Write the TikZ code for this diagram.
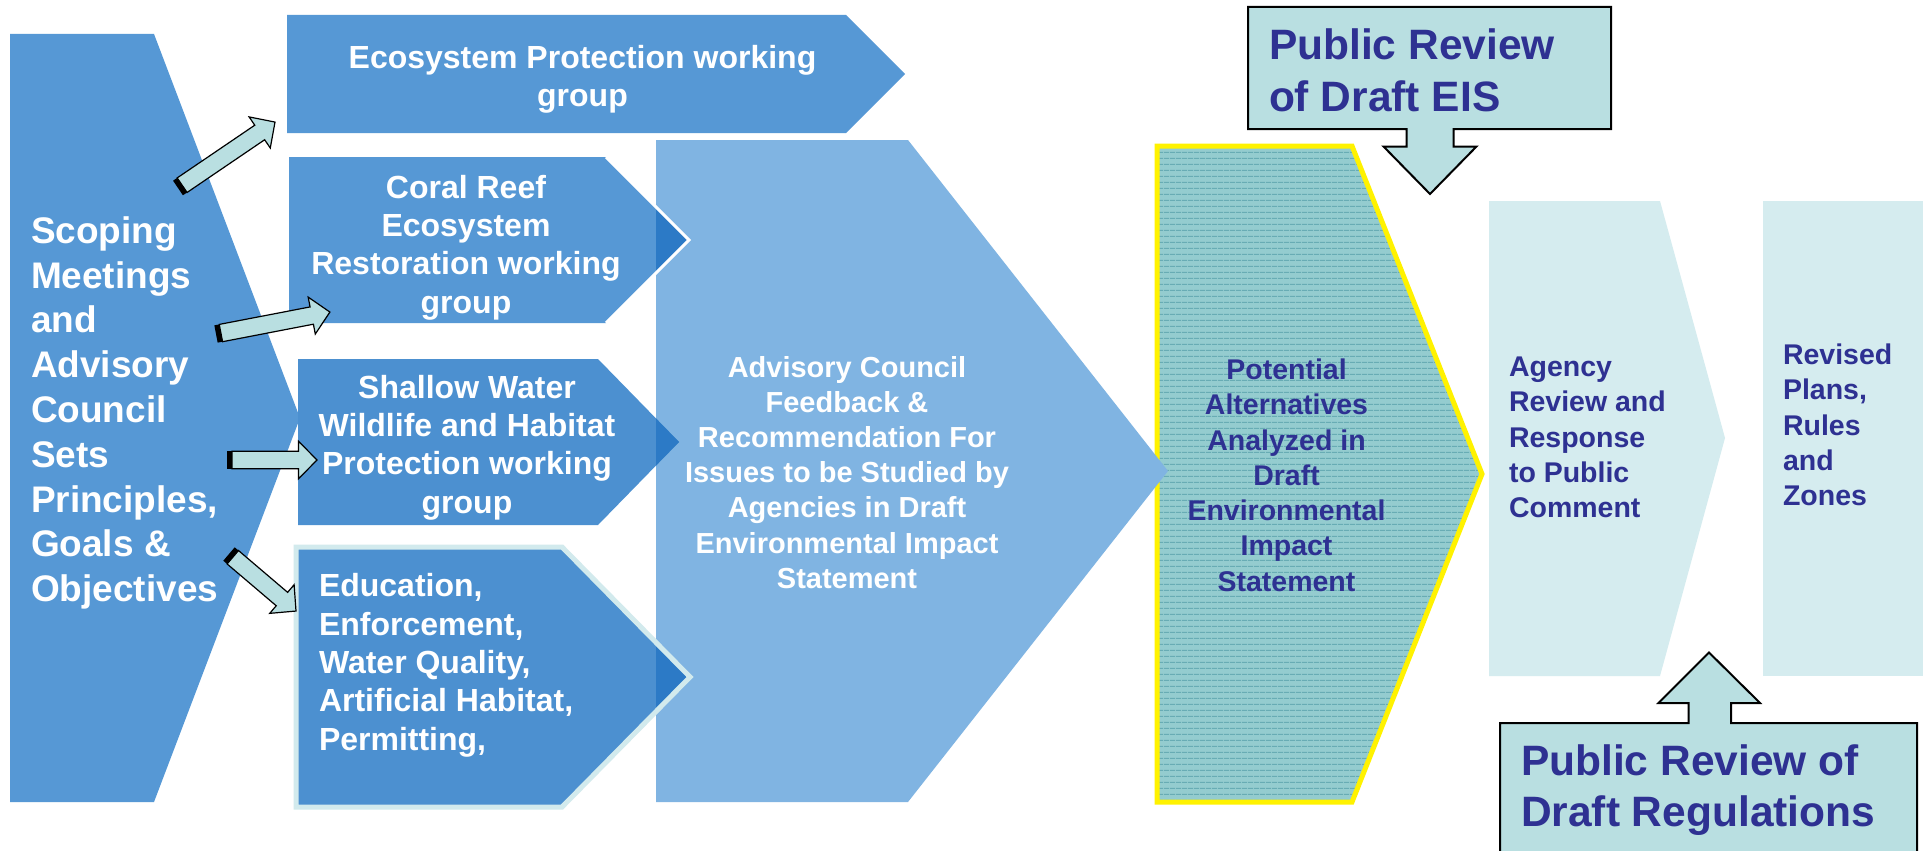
\documentclass[tikz,border=0pt]{standalone}
\usepackage{fontspec}
\setmainfont{Liberation Sans}
\usetikzlibrary{patterns.meta}
\definecolor{blueA}{RGB}{86,152,213}
\definecolor{blueS}{RGB}{76,144,208}
\definecolor{blueAdv}{RGB}{128,180,226}
\definecolor{tipdark}{RGB}{44,122,198}
\definecolor{tealP}{RGB}{148,204,207}
\definecolor{tealLine}{RGB}{104,172,180}
\definecolor{paleT}{RGB}{213,236,239}
\definecolor{callout}{RGB}{185,223,225}
\definecolor{navy}{RGB}{46,49,146}
\definecolor{eduborder}{RGB}{210,234,237}
\tikzdeclarepattern{
  name=hstripes,
  type=uncolored,
  bounding box={(0pt,0pt) and (6pt,6pt)},
  tile size={(6pt,6pt)},
  code={\pgfsetlinewidth{1.3pt}\pgfpathmoveto{\pgfpoint{0pt}{3pt}}\pgfpathlineto{\pgfpoint{6pt}{3pt}}\pgfusepath{stroke}}
}
\begin{document}
\begin{tikzpicture}[x=1pt,y=-1pt,
  every node/.style={inner sep=0pt,outer sep=0pt},
  fScope/.style={font=\fontsize{37}{44.8}\selectfont\bfseries},
  fGroup/.style={font=\fontsize{32}{38.4}\selectfont\bfseries},
  fAdv/.style={font=\fontsize{29}{35.2}\selectfont\bfseries},
  fPot/.style={font=\fontsize{28.5}{35.3}\selectfont\bfseries},
  fPub/.style={font=\fontsize{42.5}{51.5}\selectfont\bfseries},
  pics/barrow/.style={code={
    \fill[black] (0,-8.8) rectangle (6,8.8);
    \draw[fill=callout,line width=1.2pt,line join=miter]
      (5,-8.8) -- ({#1-18.5},-8.8) -- ({#1-18.5},-18.8) -- (#1,0)
      -- ({#1-18.5},18.8) -- ({#1-18.5},8.8) -- (5,8.8) -- cycle;
  }}]
\useasboundingbox (0,0) rectangle (1923,851);
\fill[white] (0,0) rectangle (1923,851);

% Left scoping chevron
\fill[blueA] (10,34) -- (154,34) -- (300,418) -- (154,802) -- (10,802) -- cycle;

% Right-hand stages
\fill[tealP] (1157,146) -- (1352,146) -- (1482,474) -- (1352,802) -- (1157,802) -- cycle;
\fill[pattern=hstripes,pattern color=tealLine]
  (1157,146) -- (1352,146) -- (1482,474) -- (1352,802) -- (1157,802) -- cycle;
\draw[draw=yellow,line width=5pt,line join=miter]
  (1157,146) -- (1352,146) -- (1482,474) -- (1352,802) -- (1157,802) -- cycle;
\fill[paleT] (1489,201) -- (1660,201) -- (1725,438) -- (1660,676) -- (1489,676) -- cycle;
\fill[paleT] (1763,201) rectangle (1935,676);

% Advisory council chevron
\fill[blueAdv] (656,140) -- (908,140) -- (1168,471) -- (908,802) -- (656,802) -- cycle;

% Working group boxes
\fill[blueA] (287,15) -- (846,15) -- (905,74) -- (846,133) -- (287,133) -- cycle;

\fill[blueA] (289,157) -- (606,157) -- (689,240) -- (606,323) -- (289,323) -- cycle;
\begin{scope}
  \clip (656,0) rectangle (1000,851);
  \fill[tipdark] (289,157) -- (606,157) -- (689,240) -- (606,323) -- (289,323) -- cycle;
\end{scope}
\draw[white,line width=3pt,line join=miter] (606,157) -- (689,240) -- (606,323);

\fill[blueS] (298,359) -- (598,359) -- (679,442) -- (598,525) -- (298,525) -- cycle;
\begin{scope}
  \clip (656,0) rectangle (1000,851);
  \fill[tipdark] (298,359) -- (598,359) -- (679,442) -- (598,525) -- (298,525) -- cycle;
\end{scope}

\fill[blueS] (296,547) -- (562,547) -- (690,677) -- (562,807) -- (296,807) -- cycle;
\begin{scope}
  \clip (656,0) rectangle (1000,851);
  \fill[tipdark] (296,547) -- (562,547) -- (690,677) -- (562,807) -- (296,807) -- cycle;
\end{scope}
\draw[eduborder,line width=5pt,line join=miter]
  (296,547) -- (562,547) -- (690,677) -- (562,807) -- (296,807) -- cycle;

% Callouts
\draw[fill=callout,line width=2pt,line join=miter]
  (1248,7) -- (1611,7) -- (1611,129) -- (1453.5,129) -- (1453.5,146.5)
  -- (1476.5,146.5) -- (1430,194) -- (1383.5,146.5) -- (1406.5,146.5)
  -- (1406.5,129) -- (1248,129) -- cycle;
\draw[fill=callout,line width=2pt,line join=miter]
  (1500,870) -- (1500,723) -- (1688.5,723) -- (1688.5,703) -- (1658.5,703)
  -- (1709,652.5) -- (1760,703) -- (1731,703) -- (1731,723) -- (1917,723)
  -- (1917,870);

% Block arrows
\coordinate (t1) at (178,188);
\coordinate (t2) at (216,334);
\coordinate (t3) at (227,460);
\coordinate (t4) at (229,554);
\pic[rotate=34.2] at (t1) {barrow=117.3};
\pic[rotate=10.9] at (t2) {barrow=116};
\pic at (t3) {barrow=90};
\pic[rotate=-40.4] at (t4) {barrow=88};

% Texts
\node[fScope,text=white,anchor=north west,align=left] (scoping) at (31,216.4)
  {Scoping\\Meetings\\and\\Advisory\\Council\\Sets\\Principles,\\Goals \&\\Objectives};
\node[fGroup,text=white,anchor=north,align=center] (eco) at (582.5,45)
  {Ecosystem Protection working\\group};
\node[fGroup,text=white,anchor=north,align=center] (coral) at (466,175)
  {Coral Reef\\Ecosystem\\Restoration working\\group};
\node[fGroup,text=white,anchor=north,align=center] (shallow) at (467,375)
  {Shallow Water\\Wildlife and Habitat\\Protection working\\group};
\node[fGroup,text=white,anchor=north west,align=left] (edu) at (319,573.5)
  {Education,\\Enforcement,\\Water Quality,\\Artificial Habitat,\\Permitting,};
\node[fAdv,text=white,anchor=north,align=center] (adv) at (847,356)
  {Advisory Council\\Feedback \&\\Recommendation For\\Issues to be Studied by\\Agencies in Draft\\Environmental Impact\\Statement};
\node[fPot,text=navy,anchor=north,align=center] (pot) at (1286.5,358.8)
  {Potential\\Alternatives\\Analyzed in\\Draft\\Environmental\\Impact\\Statement};
\node[fPot,text=navy,anchor=north west,align=left] (agency) at (1509,356.8)
  {Agency\\Review and\\Response\\to Public\\Comment};
\node[fPot,text=navy,anchor=north west,align=left] (revised) at (1783,343.8)
  {Revised\\Plans,\\Rules\\and\\Zones};
\node[fPub,text=navy,anchor=north west,align=left] (pubeis) at (1269,29)
  {Public Review\\of Draft EIS};
\node[fPub,text=navy,anchor=north west,align=left] (pubreg) at (1521,744.4)
  {Public Review of\\Draft Regulations};
\end{tikzpicture}
\end{document}
